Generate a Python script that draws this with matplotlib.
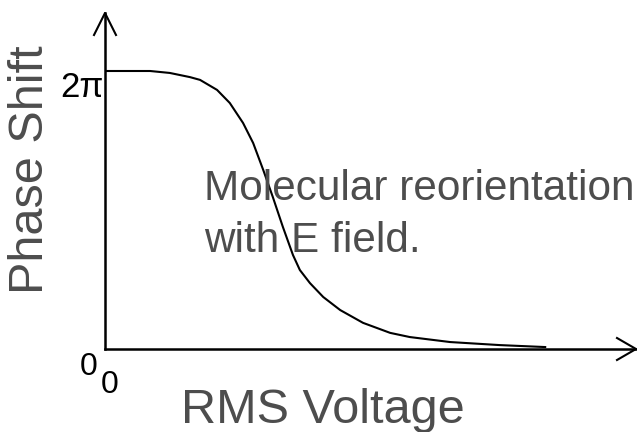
import matplotlib
matplotlib.use("Agg")
import matplotlib.pyplot as plt

# values (voltage in arbitrary units, phase in units of 2*pi)
voltage = [0.0, 0.47, 0.85, 1.22, 1.60, 1.79, 2.11, 2.35, 2.60, 2.79, 2.98,
           3.16, 3.35, 3.54, 3.67, 3.86, 4.11, 4.43, 4.86, 5.37, 5.74, 6.50,
           7.44, 8.29]
phase = [1.0, 1.0, 1.0, 0.993, 0.978, 0.968, 0.932, 0.885, 0.813, 0.741, 0.644,
         0.547, 0.439, 0.338, 0.284, 0.237, 0.187, 0.140, 0.094, 0.058, 0.043,
         0.025, 0.014, 0.007]

W, H = 637, 432
plt.rcParams['font.family'] = ['Liberation Sans', 'DejaVu Sans']

fig = plt.figure(figsize=(W / 100, H / 100), dpi=100)
# axes origin at pixel (105, 349), x arrow tip at 636, y arrow tip at 13
x0, y0, x1, y1 = 105, 349, 636, 13
ax = fig.add_axes([x0 / W, (H - y0) / H, (x1 - x0) / W, (y0 - y1) / H])
ax.set_xlim(0, 10)
ax.set_ylim(0, (y0 - y1) / (y0 - 71))
ax.axis('off')

ax.plot(voltage, phase, color='black', lw=1.5, solid_joinstyle='round')

# axis lines with open arrowheads (axes fraction coords)
tr = ax.transAxes
ax.plot([0, 0], [0, 1], color='black', lw=1.8, transform=tr, clip_on=False)
ax.plot([0, 1], [0, 0], color='black', lw=1.8, transform=tr, clip_on=False)
hx, hy = 11 / (x1 - x0), 22 / (y0 - y1)
ax.plot([-hx, 0, hx], [1 - hy, 1, 1 - hy], color='black', lw=1.5,
        transform=tr, clip_on=False)
hx2, hy2 = 19 / (x1 - x0), 11 / (y0 - y1)
ax.plot([1 - hx2, 1, 1 - hx2], [hy2, 0, -hy2], color='black', lw=1.5,
        transform=tr, clip_on=False)

def px(x, y):
    return x / W, 1 - y / H

grey = '#4d4d4d'
fig.text(*px(104, 97), '2π', fontsize=25, ha='right', va='baseline', color='black')
fig.text(*px(89, 375), '0', fontsize=23, ha='center', va='baseline', color='black')
fig.text(*px(110, 393), '0', fontsize=23, ha='center', va='baseline', color='black')
fig.text(*px(31, 170), 'Phase Shift', fontsize=35, rotation=90, ha='center',
         va='center', color=grey)
fig.text(*px(323, 423), 'RMS Voltage', fontsize=35, ha='center', va='baseline',
         color=grey)
fig.text(*px(204, 200), 'Molecular reorientation', fontsize=30.4, ha='left',
         va='baseline', color=grey)
fig.text(*px(204, 252), 'with E field.', fontsize=30.4, ha='left',
         va='baseline', color=grey)

fig.savefig('out.png', dpi=100)
